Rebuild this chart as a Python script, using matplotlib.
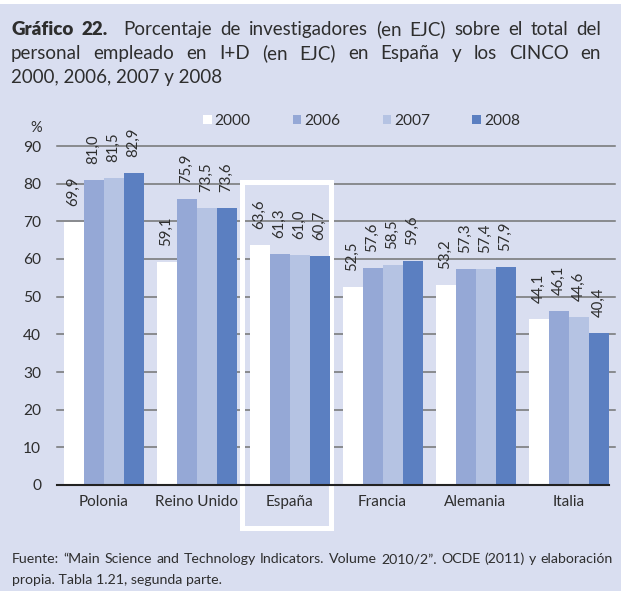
import matplotlib
matplotlib.use("Agg")
import matplotlib.pyplot as plt
import matplotlib.patches as mpatches
import numpy as np

# data
countries = ["Polonia", "Reino Unido", "España", "Francia", "Alemania", "Italia"]
years = ["2000", "2006", "2007", "2008"]
v2000 = [69.9, 59.1, 63.6, 52.5, 53.2, 44.1]
v2006 = [81.0, 75.9, 61.3, 57.6, 57.3, 46.1]
v2007 = [81.5, 73.5, 61.0, 58.5, 57.4, 44.6]
v2008 = [82.9, 73.6, 60.7, 59.6, 57.9, 40.4]
yticks = [0, 10, 20, 30, 40, 50, 60, 70, 80, 90]

series = [v2000, v2006, v2007, v2008]
colors = ["#FFFFFF", "#95A8D6", "#B5C3E3", "#5B7FC1"]
BG = "#D9DEF0"
TXT = "#2E2E2E"
FONT = "Lato"

W, H = 621, 591
fig = plt.figure(figsize=(W / 100, H / 100), dpi=100)
fig.patch.set_facecolor(BG)
plt.rcParams["font.family"] = [FONT, "DejaVu Sans"]

# white strip at top
fig.add_artist(mpatches.Rectangle((0, 1 - 4 / H), 1, 4 / H, transform=fig.transFigure,
                                  facecolor="white", edgecolor="none"))

# axes placed in pixels
ax_l, ax_r, ax_b, ax_t = 57, 615, 485, 146
ax = fig.add_axes([ax_l / W, (H - ax_b) / H, (ax_r - ax_l) / W, (ax_b - ax_t) / H])
ax.set_facecolor("none")
ax.set_xlim(-0.5, len(countries) - 0.5)
ax.set_ylim(0, 90)
for s in ax.spines.values():
    s.set_visible(False)

for y in yticks[1:]:
    ax.axhline(y, color="#737373", lw=1.1, zorder=1, clip_on=False)

x = np.arange(len(countries))
bw = 20 / 93
for i, (vals, c) in enumerate(zip(series, colors)):
    xs = x + (i - 1.5) * bw
    ax.bar(xs, vals, width=bw, color=c, edgecolor="none", zorder=3, label=years[i])
    for xi, v in zip(xs, vals):
        ax.annotate(f"{v:.1f}".replace(".", ","), (xi, v), xytext=(0, 11.5),
                    textcoords="offset points", rotation=90, ha="center", va="bottom",
                    fontsize=10.8, color=TXT, zorder=5, annotation_clip=False)

# zero line ends at last bar edge
last_edge = x[-1] + 2 * bw
ax.axhline(0, xmin=0, xmax=(last_edge + 0.5) / len(countries), color="#222222", lw=1.5,
           zorder=4, clip_on=False)

# highlight box around España
box = mpatches.Rectangle((1.484, -11.3), 0.967, 91.8, fill=False, edgecolor="white",
                         lw=3.6, zorder=2, clip_on=False)
ax.add_patch(box)

ax.set_yticks(yticks)
ax.set_yticklabels([str(t) for t in yticks])
ax.set_xticks(x)
ax.set_xticklabels(countries)
ax.tick_params(axis="y", length=0, pad=11.5, labelsize=11.2, labelcolor=TXT)
ax.tick_params(axis="x", length=0, pad=7, labelsize=11, labelcolor=TXT)

fig.text(36 / W, 1 - 128 / H, "%", ha="center", va="center", fontsize=10.5, color=TXT)

leg = ax.legend(loc="center", bbox_to_anchor=(361.5 / W, 1 - 121 / H),
                bbox_transform=fig.transFigure, ncol=4, frameon=False, fontsize=11.2,
                handlelength=0.56, handleheight=0.56, handletextpad=0.2,
                columnspacing=2.7, labelcolor=TXT)

renderer = fig.canvas.get_renderer()


def word_width(txt, size, weight):
    t = fig.text(0, 0, txt, fontsize=size, fontweight=weight)
    w = t.get_window_extent(renderer).width
    t.remove()
    return w


def justified(words, x0, x1, y, size, gaps=None):
    # words: list of (text, weight); spread spaces so the line fills x0..x1
    widths = [word_width(t, size, wt) for t, wt in words]
    if gaps is None:
        gaps = [1] * (len(words) - 1)
    free = (x1 - x0) - sum(widths)
    unit = free / sum(gaps)
    xp = x0
    for k, ((t, wt), w) in enumerate(zip(words, widths)):
        fig.text(xp / W, 1 - y / H, t, fontsize=size, fontweight=wt, color=TXT,
                 ha="left", va="baseline")
        xp += w
        if k < len(gaps):
            xp += unit * gaps[k]


TS = 13.5
line1 = [("Gráfico", "heavy"), ("22.", "heavy")] + [(w, "normal") for w in
         "Porcentaje de investigadores (en EJC) sobre el total del".split()]
g1 = [1] * (len(line1) - 1)
g1[1] = 2
justified(line1, 11, 601, 35, TS, g1)
line2 = [(w, "normal") for w in
         "personal empleado en I+D (en EJC) en España y los CINCO en".split()]
justified(line2, 11, 601, 59, TS)
fig.text(11 / W, 1 - 83 / H, "2000, 2006, 2007 y 2008", fontsize=TS, color=TXT,
         ha="left", va="baseline")

FS = 10.2
foot1 = [(w, "normal") for w in
         "Fuente: “Main Science and Technology Indicators. Volume 2010/2”. OCDE (2011) y elaboración".split()]
justified(foot1, 12, 613, 563, FS)
fig.text(12 / W, 1 - 584 / H, "propia. Tabla 1.21, segunda parte.", fontsize=FS, color=TXT,
         ha="left", va="baseline")

fig.savefig("out.png", dpi=100, facecolor=BG)
